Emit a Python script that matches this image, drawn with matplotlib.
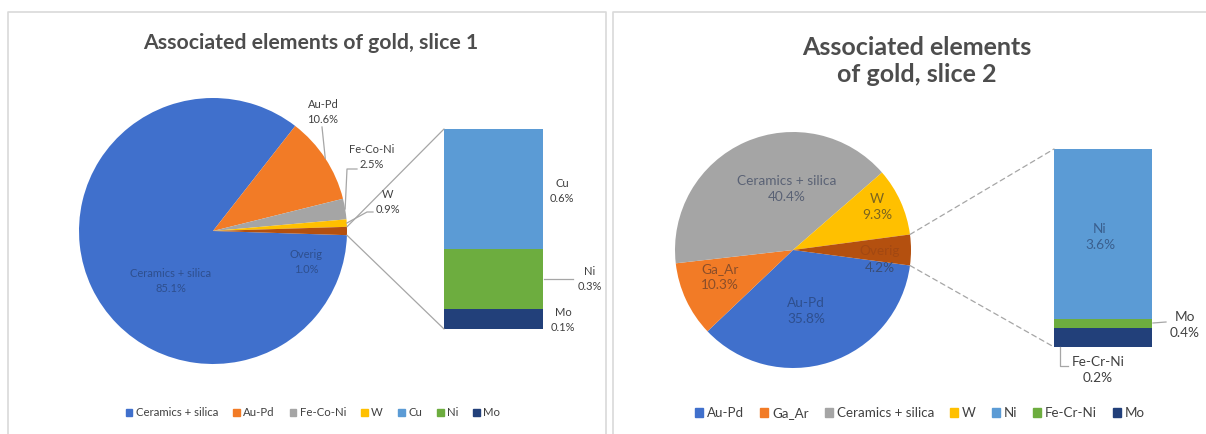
import numpy as np
import matplotlib.pyplot as plt
from matplotlib.patches import ConnectionPatch, Patch
from matplotlib.lines import Line2D
from matplotlib.transforms import IdentityTransform

W, H = 1206, 434

# slice 1: pie + breakdown of the "Overig" group
s1_names = ["Ceramics + silica", "Au-Pd", "Fe-Co-Ni", "W", "Overig"]
s1_values = [85.1, 10.6, 2.5, 0.9, 1.0]
s1_bar_names = ["Cu", "Ni", "Mo"]
s1_bar_values = [0.6, 0.3, 0.1]

# slice 2
s2_names = ["Au-Pd", "Ga_Ar", "Ceramics + silica", "W", "Overig"]
s2_values = [35.8, 10.3, 40.4, 9.3, 4.2]
s2_bar_names = ["Ni", "Fe-Cr-Ni", "Mo"]
s2_bar_values = [3.6, 0.2, 0.4]

BLUE, ORANGE, GRAY, GOLD = "#4070CC", "#F27B26", "#A5A5A5", "#FFC000"
BROWN, LBLUE, GREEN, NAVY = "#B4500F", "#5B9BD5", "#6DAD3F", "#22407A"
pie_colors = [BLUE, ORANGE, GRAY, GOLD, BROWN]
bar_colors = [LBLUE, GREEN, NAVY]

TXT = "#404040"
TITLE = "#4D4D4D"

plt.rcParams["font.family"] = ["Lato", "DejaVu Sans"]
fig = plt.figure(figsize=(W / 100, H / 100), dpi=100)


def px_axes(x0, y0, x1, y1):
    return fig.add_axes([x0 / W, 1 - y1 / H, (x1 - x0) / W, (y1 - y0) / H])


def pct(v):
    return f"{v:.1f}%"


def draw_pie(box, values, colors):
    ax = px_axes(*box)
    # secondary group centred on 3 o'clock
    start = -values[-1] / sum(values) * 180
    wedges, _ = ax.pie(values, colors=colors, startangle=start, counterclock=False,
                       radius=1, wedgeprops=dict(linewidth=0))
    ax.set_xlim(-1, 1)
    ax.set_ylim(-1, 1)
    ax.set_aspect("auto")
    ax.axis("off")
    return ax, wedges


def draw_bar(box, values, colors):
    ax = px_axes(*box)
    vals = np.array(values)
    bottoms = vals.sum() - np.cumsum(vals)
    ax.bar(np.zeros(len(vals)), vals, bottom=bottoms, width=1, align="edge",
           color=colors, linewidth=0)
    ax.set_xlim(0, 1)
    ax.set_ylim(0, vals.sum())
    ax.axis("off")
    return ax


def edge_point(ax, angle_deg):
    a = np.deg2rad(angle_deg)
    return ax.transData.transform((np.cos(a), np.sin(a)))


def connect(pie_ax, wedge, bar_ax, total, **kw):
    for ang, yb in ((wedge.theta2, total), (wedge.theta1, 0)):
        a = np.deg2rad(ang)
        con = ConnectionPatch(xyA=(np.cos(a), np.sin(a)), coordsA=pie_ax.transData,
                              xyB=(0, yb), coordsB=bar_ax.transData, **kw)
        fig.add_artist(con)


def label(x, y, text, size, color=TXT):
    fig.text(x / W, 1 - y / H, text, ha="center", va="center", fontsize=size,
             color=color, linespacing=1.4)


def leader(points, start=None):
    pts = [(x, H - y) for x, y in points]
    if start is not None:
        pts = [tuple(start)] + pts
    xs, ys = zip(*pts)
    fig.add_artist(Line2D(xs, ys, transform=IdentityTransform(), color="#A6A6A6", lw=0.9))


def mid(w):
    return (w.theta1 + w.theta2) / 2


# panel frames
for x0, x1 in ((8, 606), (613, 1215)):
    fig.add_artist(Line2D([x0 / W, x0 / W, x1 / W, x1 / W], [0, 1 - 12 / H, 1 - 12 / H, 0],
                          transform=fig.transFigure, color="#D9D9D9", lw=1.2))

# ---------------- slice 1 ----------------
ax1, w1 = draw_pie((79, 98, 347, 364), s1_values, pie_colors)
b1 = draw_bar((444, 129, 543, 329), s1_bar_values, bar_colors)
connect(ax1, w1[-1], b1, sum(s1_bar_values), color="#A6A6A6", lw=0.9)

fig.text(311 / W, 1 - 43 / H, "Associated elements of gold, slice 1", ha="center",
         va="center", fontsize=15.3, fontweight="bold", color=TITLE)

s1_lab = {"Ceramics + silica": (171, 281), "Au-Pd": (323, 112), "Fe-Co-Ni": (372, 157),
          "W": (388, 202), "Overig": (306, 262)}
inner1 = {"Ceramics + silica": "#2E4F8E", "Overig": "#2E4F8E"}
for n, v in zip(s1_names, s1_values):
    x, y = s1_lab[n]
    label(x, y, f"{n}\n{pct(v)}", 8, inner1.get(n, TXT))

leader([(322, 127)], edge_point(ax1, mid(w1[1])))
leader([(347, 169), (357, 169)], edge_point(ax1, mid(w1[2])))
leader([(367, 212), (373, 212)], edge_point(ax1, mid(w1[3])))

s1_bar_lab = {"Cu": (562, 191), "Ni": (590, 279), "Mo": (563, 320)}
for n, v in zip(s1_bar_names, s1_bar_values):
    x, y = s1_bar_lab[n]
    label(x, y, f"{n}\n{pct(v)}", 8)
leader([(544, 279), (573, 279)])

h1 = [Patch(color=c) for c in pie_colors[:-1] + bar_colors]
fig.legend(h1, s1_names[:-1] + s1_bar_names, loc="center", bbox_to_anchor=(313 / W, 1 - 413 / H),
           ncol=7, frameon=False, fontsize=8.2, handlelength=0.6, handleheight=0.6,
           handletextpad=0.3, columnspacing=1.3, labelcolor=TXT)

# ---------------- slice 2 ----------------
ax2, w2 = draw_pie((675, 132, 911, 368), s2_values, pie_colors)
b2 = draw_bar((1054, 149, 1152, 347), s2_bar_values, bar_colors)
connect(ax2, w2[-1], b2, sum(s2_bar_values), color="#A6A6A6", lw=0.9, linestyle=(0, (4, 3)))

fig.text(917 / W, 1 - 61 / H, "Associated elements\nof gold, slice 2", ha="center",
         va="center", fontsize=18, fontweight="bold", color=TITLE, linespacing=1.2)

s2_lab = {"Au-Pd": (806, 311), "Ga_Ar": (720, 277), "Ceramics + silica": (787, 189),
          "W": (877, 207)}
inner2 = {"Au-Pd": "#2E4F8E", "Ga_Ar": "#8A4E2A", "Ceramics + silica": "#5A6275",
          "W": "#7A6420"}
for n, v in zip(s2_names[:-1], s2_values[:-1]):
    x, y = s2_lab[n]
    label(x, y, f"{n}\n{pct(v)}", 9.8, inner2[n])
label(880, 251, s2_names[-1], 9.8, "#A24812")
label(880, 268, pct(s2_values[-1]), 9.8, "#3A4E78")

s2_bar_lab = {"Ni": (1100, 237), "Fe-Cr-Ni": (1098, 370), "Mo": (1185, 325)}
bar_inner = {"Ni": "#3A5F8E"}
for n, v in zip(s2_bar_names, s2_bar_values):
    x, y = s2_bar_lab[n]
    label(x, y, f"{n}\n{pct(v)}", 9.8, bar_inner.get(n, TXT))
leader([(1153, 323), (1166, 322)])
leader([(1060, 347), (1060, 366), (1068, 366)])

h2 = [Patch(color=c) for c in pie_colors[:-1] + bar_colors]
fig.legend(h2, s2_names[:-1] + s2_bar_names, loc="center", bbox_to_anchor=(920 / W, 1 - 413 / H),
           ncol=7, frameon=False, fontsize=9.6, handlelength=0.6, handleheight=0.6,
           handletextpad=0.3, columnspacing=1.2, labelcolor=TXT)

fig.savefig("out.png", dpi=100)
